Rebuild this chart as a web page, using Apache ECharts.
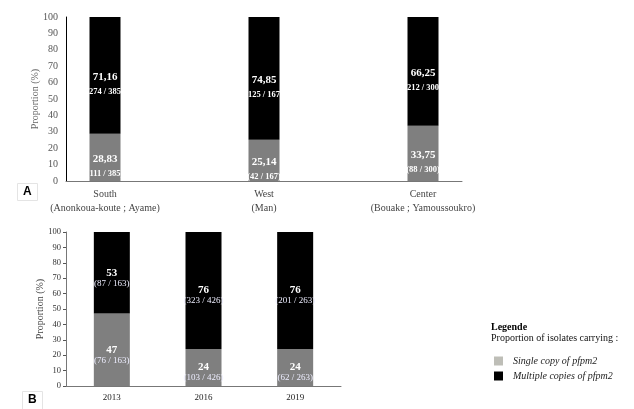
<!DOCTYPE html>
<html><head><meta charset="utf-8">
<script src="https://cdn.jsdelivr.net/npm/echarts@6/dist/echarts.min.js"></script>
<style>html,body{margin:0;padding:0;background:#fff}#c{width:634px;height:409px}</style>
</head><body><div id="c"></div>
<script>
// Panel A: regions
const catsA = ['South\n(Anonkoua-koute ; Ayame)', 'West\n(Man)', 'Center\n(Bouake ; Yamoussoukro)'];
const singleA = [28.83, 25.14, 33.75];
const multiA = [71.16, 74.85, 66.25];
const singleA_n = [111, 42, 88];
const multiA_n = [274, 125, 212];
const totalA = [385, 167, 300];
// Panel B: years
const catsB = ['2013', '2016', '2019'];
const singleB = [47, 24, 24];
const multiB = [53, 76, 76];
const singleB_n = [76, 103, 62];
const multiB_n = [87, 323, 201];
const totalB = [163, 426, 263];
const yTicks = [0, 10, 20, 30, 40, 50, 60, 70, 80, 90, 100];
const seriesNames = ['Single copy of pfpm2', 'Multiple copies of pfpm2'];

const serif = 'Liberation Serif';
const fmtA = v => v.toFixed(2).replace('.', ',');

function labA(vals, n, tot) {
  return {
    show: true, position: 'inside', offset: [0, 8],
    formatter: p => '{v|' + fmtA(vals[p.dataIndex]) + '}\n{f|(' + n[p.dataIndex] + ' / ' + tot[p.dataIndex] + ')}',
    rich: {
      v: { fontFamily: serif, fontWeight: 'bold', fontSize: 11, color: '#fff', lineHeight: 16 },
      f: { fontFamily: serif, fontWeight: 'bold', fontSize: 8.5, color: '#fff', lineHeight: 12 }
    }
  };
}
function labB(vals, n, tot) {
  return {
    show: true, position: 'inside', offset: [0, 5],
    formatter: p => '{v|' + vals[p.dataIndex] + '}\n{f|(' + n[p.dataIndex] + ' / ' + tot[p.dataIndex] + ')}',
    rich: {
      v: { fontFamily: serif, fontWeight: 'bold', fontSize: 11, color: '#fff', lineHeight: 11 },
      f: { fontFamily: serif, fontSize: 9, color: '#eef', lineHeight: 10 }
    }
  };
}

const yBase = {
  type: 'value', min: yTicks[0], max: yTicks[yTicks.length - 1], interval: 10,
  splitLine: { show: false }
};

const chart = echarts.init(document.getElementById('c'));
chart.setOption({
  animation: false,
  backgroundColor: '#fff',
  title: [
    { text: 'A', left: 17, top: 183, padding: [3, 6, 3, 6], borderColor: '#e4e4e4', borderWidth: 1,
      textStyle: { fontFamily: 'Liberation Sans', fontWeight: 'bold', fontSize: 12, color: '#000' } },
    { text: 'B', left: 22, top: 391, padding: [3, 6, 6, 6], borderColor: '#e4e4e4', borderWidth: 1,
      textStyle: { fontFamily: 'Liberation Sans', fontWeight: 'bold', fontSize: 12, color: '#000' } },
    { text: 'Legende', subtext: 'Proportion of isolates carrying :', left: 491, top: 322, padding: 0, itemGap: 1,
      textStyle: { fontFamily: serif, fontWeight: 'bold', fontSize: 10, color: '#000' },
      subtextStyle: { fontFamily: serif, fontSize: 10, color: '#111' } }
  ],
  legend: {
    data: [
      { name: seriesNames[0], itemStyle: { color: '#bebeb7' } },
      { name: seriesNames[1], itemStyle: { color: '#000' } }
    ],
    orient: 'vertical', left: 494, top: 356, padding: 0, itemWidth: 9, itemHeight: 9, itemGap: 5,
    icon: 'rect', selectedMode: false,
    textStyle: { fontFamily: serif, fontStyle: 'italic', fontSize: 10, color: '#222', padding: [0, 0, 0, 5] }
  },
  grid: [
    { left: 105, top: 17, width: 318, height: 164 },   // bars of panel A
    { left: 66, top: 232, width: 275, height: 154 },   // panel B
    { left: 66, top: 17, width: 396, height: 164 }     // frame (axes lines) of panel A
  ],
  xAxis: [
    { type: 'category', gridIndex: 0, data: catsA, boundaryGap: false,
      axisTick: { show: false }, axisLine: { show: false },
      axisLabel: { fontFamily: serif, fontSize: 10, color: '#444', lineHeight: 14, margin: 6 } },
    { type: 'category', gridIndex: 1, data: catsB,
      axisTick: { show: false },
      axisLine: { lineStyle: { color: '#777', width: 1 } },
      axisLabel: { fontFamily: serif, fontSize: 9, color: '#222', margin: 7 } },
    { type: 'value', gridIndex: 2, min: 0, max: 1, splitLine: { show: false },
      axisTick: { show: false }, axisLabel: { show: false },
      axisLine: { show: true, lineStyle: { color: '#777', width: 1 } } }
  ],
  yAxis: [
    Object.assign({}, yBase, { gridIndex: 0, show: false }),
    Object.assign({}, yBase, { gridIndex: 1,
      name: 'Proportion (%)', nameLocation: 'middle', nameGap: 21, nameMoveOverlap: false,
      nameTextStyle: { fontFamily: serif, fontSize: 10, color: '#444' },
      axisTick: { show: true, length: 3, lineStyle: { color: '#555' } },
      axisLine: { show: true, lineStyle: { color: '#777', width: 1 } },
      axisLabel: { fontFamily: serif, fontSize: 8.5, color: '#333', margin: 5 } }),
    Object.assign({}, yBase, { gridIndex: 2,
      name: 'Proportion (%)', nameLocation: 'middle', nameGap: 26, nameMoveOverlap: false,
      nameTextStyle: { fontFamily: serif, fontSize: 10, color: '#666' },
      axisTick: { show: false },
      axisLine: { show: true, onZero: false, lineStyle: { color: '#000', width: 1 } },
      axisLabel: { fontFamily: serif, fontSize: 10, color: '#555', margin: 8 } })
  ],
  series: [
    { name: seriesNames[0], type: 'bar', xAxisIndex: 0, yAxisIndex: 0, stack: 'a', barWidth: 31,
      itemStyle: { color: '#7f7f7f' }, data: singleA, label: labA(singleA, singleA_n, totalA) },
    { name: seriesNames[1], type: 'bar', xAxisIndex: 0, yAxisIndex: 0, stack: 'a', barWidth: 31,
      itemStyle: { color: '#000' }, data: multiA, label: labA(multiA, multiA_n, totalA) },
    { name: seriesNames[0], type: 'bar', xAxisIndex: 1, yAxisIndex: 1, stack: 'b', barWidth: 36,
      itemStyle: { color: '#7f7f7f' }, data: singleB, label: labB(singleB, singleB_n, totalB) },
    { name: seriesNames[1], type: 'bar', xAxisIndex: 1, yAxisIndex: 1, stack: 'b', barWidth: 36,
      itemStyle: { color: '#000' }, data: multiB, label: labB(multiB, multiB_n, totalB) }
  ]
});
</script></body></html>
